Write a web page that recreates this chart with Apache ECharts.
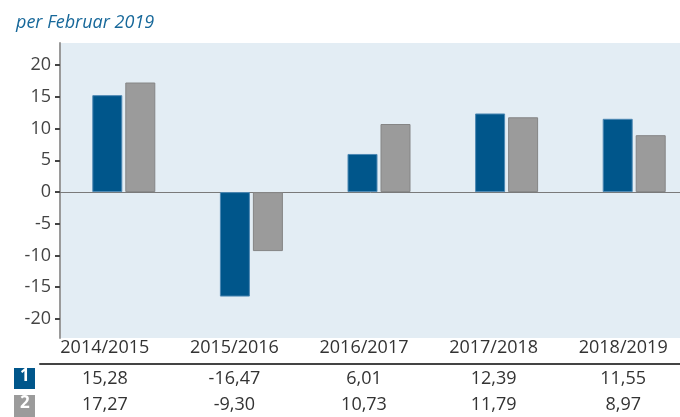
<!DOCTYPE html>
<html>
<head>
<meta charset="utf-8">
<script src="https://cdn.jsdelivr.net/npm/echarts@6/dist/echarts.min.js"></script>
<style>html,body{margin:0;padding:0;background:#fff}#c{width:680px;height:417px}</style>
</head>
<body>
<div id="c"></div>
<script>
const categories = ['2014/2015','2015/2016','2016/2017','2017/2018','2018/2019'];
const series1 = [15.28, -16.47, 6.01, 12.39, 11.55];
const series2 = [17.27, -9.30, 10.73, 11.79, 8.97];
const yTicks = [-20, -15, -10, -5, 0, 5, 10, 15, 20];
const subtitle = 'per Februar 2019';

const fmt = v => v.toFixed(2).replace('.', ',');
const FONT = 'Open Sans';
const chart = echarts.init(document.getElementById('c'), null, {renderer: 'canvas'});
chart.setOption({
  animation: false,
  textStyle: {fontFamily: FONT},
  title: {
    text: subtitle, left: 11, top: 9,
    textStyle: {fontFamily: FONT, fontStyle: 'italic', fontWeight: 'normal', fontSize: 18, color: '#17689a'}
  },
  grid: [
    {left: 60, top: 43, width: 638, height: 295, show: true, backgroundColor: '#e3edf4', borderWidth: 0,
     outerBoundsMode: 'none', containLabel: false},
    {left: 40, top: 362, width: 648, height: 2, outerBoundsMode: 'none', containLabel: false}
  ],
  xAxis: [
    {type: 'category', gridIndex: 0, data: categories,
     axisLine: {onZero: true, lineStyle: {color: '#7a7a7a', width: 1}},
     axisTick: {show: false}, axisLabel: {show: false}},
    {type: 'category', gridIndex: 1, data: categories, position: 'bottom',
     axisLine: {lineStyle: {color: '#444', width: 2}},
     axisTick: {show: false},
     axisLabel: {margin: 2, interval: 0,
       formatter: (v, i) => '{a|' + fmt(series1[i]) + '}\n{a|' + fmt(series2[i]) + '}',
       rich: {a: {fontSize: 18, lineHeight: 26, color: '#333', fontFamily: FONT}}}},
    {type: 'category', gridIndex: 1, data: categories, position: 'top',
     axisLine: {show: false}, axisTick: {show: false},
     axisLabel: {margin: 5, interval: 0, fontSize: 18, color: '#333', fontFamily: FONT}}
  ],
  yAxis: [
    {type: 'value', gridIndex: 0, min: -23, max: 23.5,
     axisLine: {show: true, lineStyle: {color: '#9a9a9a', width: 2}},
     axisTick: {show: true, customValues: yTicks, length: 5, lineStyle: {color: '#444', width: 2}},
     axisLabel: {customValues: yTicks, margin: 9, fontSize: 18, color: '#444', fontFamily: FONT},
     splitLine: {show: false}},
    {type: 'value', gridIndex: 1, show: false}
  ],
  series: [
    {type: 'bar', name: '1', data: series1, xAxisIndex: 0, yAxisIndex: 0,
     barWidth: 30, barGap: '10%',
     itemStyle: {color: '#00568b', borderColor: '#4d88b3', borderWidth: 1}},
    {type: 'bar', name: '2', data: series2, xAxisIndex: 0, yAxisIndex: 0,
     barWidth: 30, barGap: '10%',
     itemStyle: {color: '#9b9b9b', borderColor: '#858585', borderWidth: 1}}
  ],
  graphic: [
    {type: 'rect', left: 14, top: 368, shape: {width: 21, height: 21}, style: {fill: '#00568b'}},
    {type: 'text', left: 20, top: 368, style: {text: '1', fill: '#fff', font: 'bold 17px "Open Sans"'}},
    {type: 'rect', left: 14, top: 395, shape: {width: 21, height: 22}, style: {fill: '#9b9b9b'}},
    {type: 'text', left: 20, top: 395, style: {text: '2', fill: '#fff', font: 'bold 17px "Open Sans"'}}
  ]
});
</script>
</body>
</html>
